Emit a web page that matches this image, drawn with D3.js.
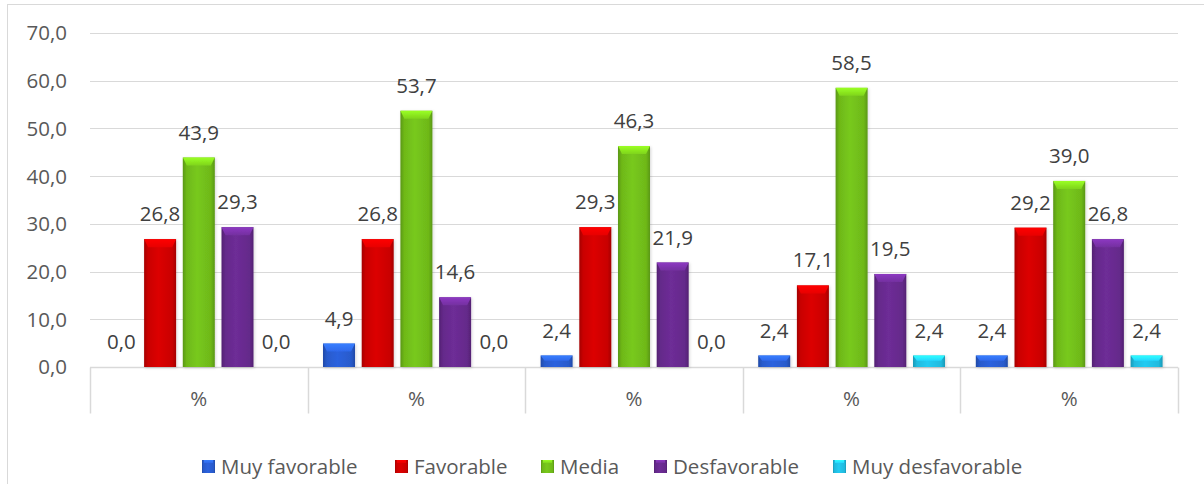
<!DOCTYPE html>
<html>
<head>
<meta charset="utf-8">
<script src="https://cdn.jsdelivr.net/npm/d3@7"></script>
<style>
  html, body { margin: 0; padding: 0; background: #fff; }
  svg { display: block; font-family: "Open Sans", "Noto Sans", sans-serif; }
</style>
</head>
<body>
<svg id="chart" width="1204" height="484"></svg>
<script>
// Survey results by category (percent)
const categories = ["%", "%", "%", "%", "%"];
const seriesNames = ["Muy favorable", "Favorable", "Media", "Desfavorable", "Muy desfavorable"];
const muyFavorable    = [0.0, 4.9, 2.4, 2.4, 2.4];
const favorable       = [26.8, 26.8, 29.3, 17.1, 29.2];
const media           = [43.9, 53.7, 46.3, 58.5, 39.0];
const desfavorable    = [29.3, 14.6, 21.9, 19.5, 26.8];
const muyDesfavorable = [0.0, 0.0, 0.0, 2.4, 2.4];
const yTicks = [0, 10, 20, 30, 40, 50, 60, 70];

const seriesValues = [muyFavorable, favorable, media, desfavorable, muyDesfavorable];
const seriesColors = ["#2a5fd6", "#d40000", "#74c21a", "#6a2b92", "#22c4ea"];

const svg = d3.select("#chart");
const fmt = v => v.toFixed(1).replace(".", ",");
const FS = 20.5;

// Outer frame (only top and left edges fall inside the view)
svg.append("line").attr("x1", 7).attr("x2", 1204).attr("y1", 4.5).attr("y2", 4.5)
  .attr("stroke", "#d9d9d9").attr("stroke-width", 1);
svg.append("line").attr("x1", 7.5).attr("x2", 7.5).attr("y1", 4).attr("y2", 484)
  .attr("stroke", "#d9d9d9").attr("stroke-width", 1);

const plotLeft = 90, plotRight = 1178;
const y = d3.scaleLinear().domain([0, 70]).range([367, 33]);
const x = d3.scaleBand().domain(d3.range(categories.length)).range([plotLeft, plotRight]).padding(0);
const xs = d3.scaleBand().domain(d3.range(seriesNames.length)).range([0, x.bandwidth()])
  .paddingInner(0.173).paddingOuter(0.398);

// Defs: gradients and shadow
const defs = svg.append("defs");
const f = defs.append("filter").attr("id", "shadow").attr("x", "-30%").attr("y", "-30%")
  .attr("width", "160%").attr("height", "160%");
f.append("feGaussianBlur").attr("in", "SourceAlpha").attr("stdDeviation", 1.6).attr("result", "b");
f.append("feOffset").attr("in", "b").attr("dx", 1).attr("dy", 1).attr("result", "o");
f.append("feFlood").attr("flood-color", "#000").attr("flood-opacity", 0.16);
f.append("feComposite").attr("in2", "o").attr("operator", "in").attr("result", "s");
const fm = f.append("feMerge");
fm.append("feMergeNode").attr("in", "s");
fm.append("feMergeNode").attr("in", "SourceGraphic");

seriesColors.forEach((c, i) => {
  const base = d3.color(c);
  const dark = base.darker(0.7);
  const g = defs.append("linearGradient").attr("id", "body" + i)
    .attr("x1", 0).attr("x2", 1).attr("y1", 0).attr("y2", 0);
  g.append("stop").attr("offset", "0%").attr("stop-color", dark);
  g.append("stop").attr("offset", "12%").attr("stop-color", base.darker(0.15));
  g.append("stop").attr("offset", "45%").attr("stop-color", base.brighter(0.1));
  g.append("stop").attr("offset", "88%").attr("stop-color", base.darker(0.15));
  g.append("stop").attr("offset", "100%").attr("stop-color", dark);
  const t = defs.append("linearGradient").attr("id", "top" + i)
    .attr("x1", 0).attr("x2", 0).attr("y1", 0).attr("y2", 1);
  t.append("stop").attr("offset", "0%").attr("stop-color", base.brighter(0.8));
  t.append("stop").attr("offset", "100%").attr("stop-color", base.brighter(0.25));
});

// Gridlines
svg.append("g").selectAll("line").data(yTicks.filter(d => d > 0)).join("line")
  .attr("x1", plotLeft).attr("x2", plotRight)
  .attr("y1", d => Math.round(y(d)) + 0.5).attr("y2", d => Math.round(y(d)) + 0.5)
  .attr("stroke", "#d9d9d9").attr("stroke-width", 1);

// Y axis labels
svg.append("g").selectAll("text").data(yTicks).join("text")
  .attr("x", 67).attr("y", d => y(d)).attr("dy", "0.36em")
  .attr("text-anchor", "end").attr("font-size", FS).attr("fill", "#595959")
  .text(fmt);

// Category axis: baseline plus boundary ticks
const axisG = svg.append("g").attr("transform", `translate(0,${Math.round(y(0)) + 0.5})`);
axisG.append("line").attr("x1", plotLeft).attr("x2", plotRight).attr("y1", 0).attr("y2", 0)
  .attr("stroke", "#d9d9d9").attr("stroke-width", 1.5);
const bounds = d3.range(categories.length + 1).map(i => i < categories.length ? x(i) : x(i - 1) + x.bandwidth());
axisG.selectAll("line.tick").data(bounds).join("line").attr("class", "tick")
  .attr("x1", d => Math.round(d) + 0.5).attr("x2", d => Math.round(d) + 0.5)
  .attr("y1", 0).attr("y2", 46)
  .attr("stroke", "#d9d9d9").attr("stroke-width", 1.5);
axisG.selectAll("text").data(d3.range(categories.length)).join("text")
  .attr("x", i => x(i) + x.bandwidth() / 2).attr("y", 31)
  .attr("dy", "0.36em").attr("y", 31)
  .attr("text-anchor", "middle").attr("font-size", FS).attr("fill", "#595959")
  .text(i => categories[i]);

// Bars
const bw = xs.bandwidth();
const barsG = svg.append("g");
const labelsG = svg.append("g");
categories.forEach((cat, ci) => {
  seriesValues.forEach((vals, si) => {
    const v = vals[ci];
    const bx = x(ci) + xs(si);
    const top = y(v), bottom = y(0);
    const h = bottom - top;
    if (h > 0.5) {
      const g = barsG.append("g").attr("filter", "url(#shadow)");
      g.append("rect").attr("x", bx).attr("y", top).attr("width", bw).attr("height", h)
        .attr("fill", `url(#body${si})`);
      const cap = Math.min(8, h * 0.45);
      g.append("path")
        .attr("d", `M${bx},${top} L${bx + bw},${top} L${bx + bw - 4},${top + cap} L${bx + 4},${top + cap} Z`)
        .attr("fill", `url(#top${si})`);
    }
    labelsG.append("text")
      .attr("x", bx + bw / 2).attr("y", top - 18)
      .attr("text-anchor", "middle").attr("font-size", FS).attr("fill", "#404040")
      .text(fmt(v));
  });
});

// Legend
const legendX = [202, 395, 541, 654, 833];
const lg = svg.append("g");
seriesNames.forEach((name, i) => {
  const g = lg.append("g").attr("transform", `translate(${legendX[i]},460)`);
  g.append("rect").attr("width", 13).attr("height", 13).attr("fill", `url(#body${i})`);
  g.append("rect").attr("x", 2).attr("y", 0).attr("width", 9).attr("height", 3).attr("fill", `url(#top${i})`);
  g.append("text").attr("x", 19).attr("y", 6.5).attr("dy", "0.36em")
    .attr("font-size", FS).attr("fill", "#595959").text(name);
});
</script>
</body>
</html>
